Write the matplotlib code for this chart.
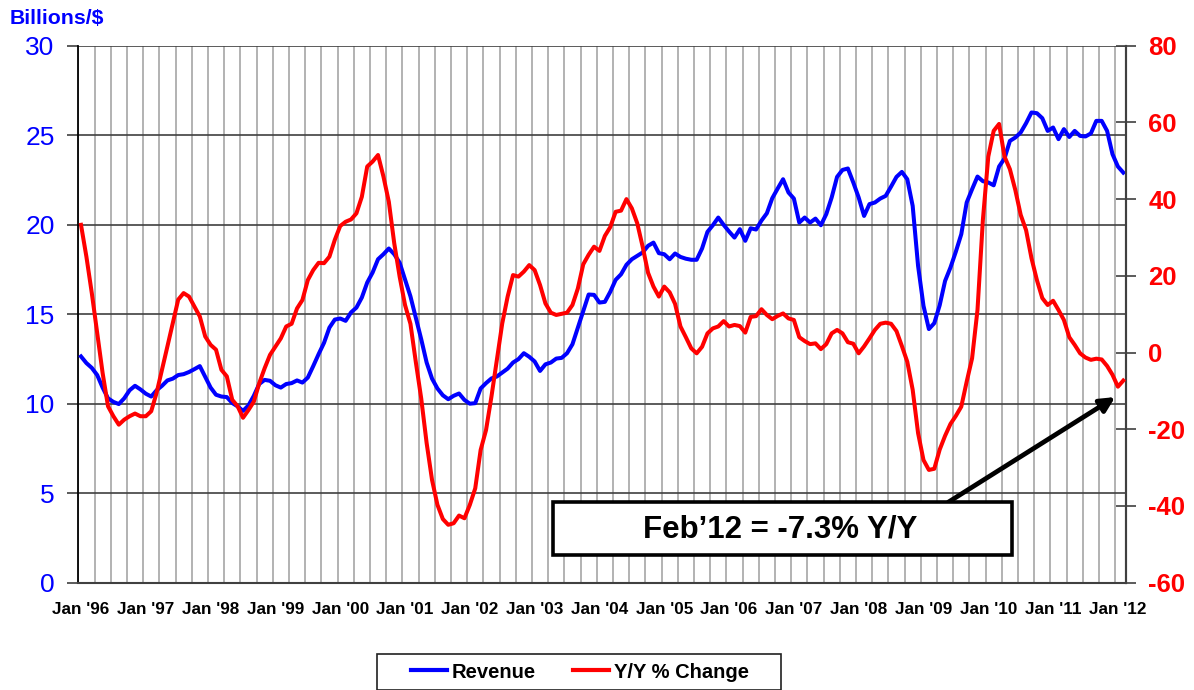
import numpy as np
import matplotlib
matplotlib.use("Agg")
import matplotlib.pyplot as plt
from matplotlib.patches import Rectangle
from matplotlib.lines import Line2D

plt.rcParams['font.family'] = ['Liberation Sans', 'DejaVu Sans']

# Monthly data, Jan 1996 .. Feb 2012
revenue = [
    12.64, 12.27, 12.0, 11.6, 10.9, 10.3, 10.1, 9.98, 10.3, 10.75, 11.0, 10.8,
    10.56, 10.4, 10.75, 11.0, 11.3, 11.4, 11.6, 11.65, 11.77, 11.93, 12.1, 11.5,
    10.9, 10.5, 10.4, 10.37, 10.04, 9.85, 9.6, 9.9, 10.44, 11.1, 11.33, 11.28,
    11.03, 10.9, 11.1, 11.15, 11.3, 11.18, 11.46, 12.1, 12.77, 13.4, 14.25, 14.7,
    14.76, 14.63, 15.1, 15.37, 15.93, 16.77, 17.33, 18.07, 18.35, 18.67, 18.35, 17.88,
    16.95, 16.0, 14.8, 13.6, 12.3, 11.4, 10.85, 10.47, 10.25, 10.44, 10.57, 10.21,
    10.0, 10.03, 10.85, 11.15, 11.41, 11.52, 11.74, 11.96, 12.3, 12.49, 12.82, 12.62,
    12.36, 11.83, 12.2, 12.3, 12.52, 12.56, 12.82, 13.32, 14.25, 15.2, 16.1, 16.08,
    15.65, 15.69, 16.25, 16.92, 17.23, 17.76, 18.07, 18.26, 18.45, 18.82, 19.0, 18.41,
    18.35, 18.07, 18.39, 18.2, 18.1, 18.04, 18.04, 18.67, 19.6, 19.97, 20.4, 19.99,
    19.62, 19.28, 19.75, 19.1, 19.8, 19.73, 20.23, 20.64, 21.48, 22.02, 22.54, 21.8,
    21.46, 20.12, 20.4, 20.12, 20.34, 19.97, 20.59, 21.52, 22.67, 23.06, 23.14, 22.36,
    21.52, 20.49, 21.15, 21.24, 21.46, 21.61, 22.13, 22.67, 22.95, 22.54, 21.05, 17.7,
    15.47, 14.17, 14.5, 15.5, 16.86, 17.61, 18.5, 19.47, 21.24, 21.98, 22.69, 22.43,
    22.36, 22.2, 23.25, 23.7, 24.68, 24.87, 25.15, 25.67, 26.27, 26.23, 25.95, 25.24,
    25.43, 24.78, 25.34, 24.9, 25.24, 24.96, 24.93, 25.1, 25.8, 25.8, 25.24, 23.94,
    23.25, 22.91,
]
yoy_change = [
    33.3, 25.0, 15.5, 5.1, -5.3, -14.0, -16.6, -18.8, -17.5, -16.6, -15.9, -16.6,
    -16.6, -15.3, -10.5, -4.5, 1.6, 7.7, 13.8, 15.5, 14.6, 12.0, 9.4, 4.2,
    2.0, 0.75, -4.5, -6.2, -12.3, -14.0, -17.0, -15.0, -12.8, -8.0, -4.1, -0.6,
    1.55, 3.7, 6.8, 7.5, 11.5, 13.7, 18.9, 21.5, 23.4, 23.3, 25.0, 29.4,
    33.0, 34.1, 34.7, 36.3, 40.6, 48.5, 49.8, 51.5, 45.9, 39.3, 28.5, 19.8,
    12.4, 7.5, -2.5, -12.0, -23.6, -33.2, -39.7, -43.4, -44.9, -44.5, -42.5, -43.2,
    -39.7, -35.4, -25.4, -20.2, -11.5, -1.9, 7.6, 14.6, 20.2, 19.8, 21.1, 22.8,
    21.5, 17.6, 12.8, 10.4, 9.8, 10.1, 10.4, 12.4, 16.7, 23.0, 25.5, 27.6,
    26.5, 30.4, 32.7, 36.7, 37.0, 40.0, 37.6, 33.7, 27.6, 20.8, 17.2, 14.6,
    17.2, 15.7, 12.7, 6.8, 4.0, 1.1, -0.2, 1.5, 5.0, 6.3, 6.8, 8.2,
    6.8, 7.2, 6.9, 5.2, 9.3, 9.5, 11.3, 9.8, 8.7, 9.55, 10.2, 8.9,
    8.5, 4.0, 3.0, 2.2, 2.4, 0.9, 2.2, 5.0, 5.9, 5.0, 2.7, 2.3,
    -0.2, 1.6, 3.7, 5.9, 7.5, 7.8, 7.5, 5.6, 1.7, -2.4, -9.7, -21.0,
    -28.0, -30.6, -30.3, -25.3, -21.7, -18.6, -16.5, -14.1, -7.6, -1.5, 11.1, 34.6,
    51.1, 57.8, 59.6, 51.1, 47.8, 42.4, 35.9, 31.9, 24.6, 18.9, 14.2, 12.4,
    13.5, 11.1, 8.5, 4.0, 2.0, -0.2, -1.3, -1.9, -1.6, -1.8, -3.5, -5.8,
    -8.9, -7.3,
]
tick_labels = ["Jan '96", "Jan '97", "Jan '98", "Jan '99", "Jan '00", "Jan '01",
               "Jan '02", "Jan '03", "Jan '04", "Jan '05", "Jan '06", "Jan '07",
               "Jan '08", "Jan '09", "Jan '10", "Jan '11", "Jan '12"]
series_names = ["Revenue", "Y/Y % Change"]
left_ticks = [0, 5, 10, 15, 20, 25, 30]
right_ticks = [-60, -40, -20, 0, 20, 40, 60, 80]

n = len(revenue)
x = np.arange(n)

W, H = 1194, 690
fig = plt.figure(figsize=(W / 100, H / 100), dpi=100)
ax = fig.add_axes([78.3 / W, 1 - 582.7 / H, (1126 - 78.3) / W, 537 / H])
ax2 = ax.twinx()

BLUE = '#0000FF'
RED = '#FF0000'

ax.set_xlim(-0.5, n - 0.5)
ax.set_ylim(0, 30)
ax2.set_ylim(-60, 80)

# vertical gridlines every quarter
ax.set_xticks(np.arange(-0.5, n, 3), minor=True)
ax.set_xticks(np.arange(0, n, 12))
ax.set_xticklabels(tick_labels, fontsize=12.3, fontweight='bold')
ax.tick_params(axis='x', which='both', length=0, pad=14)
ax.grid(True, which='minor', axis='x', color='#A6A6A6', linewidth=1.2, zorder=0)

ax.set_yticks(left_ticks)
ax.set_yticklabels([str(v) for v in left_ticks], color=BLUE, fontsize=19)
ax.tick_params(axis='y', length=8, width=1.2, color='#404040', direction='out', pad=9)
ax.grid(True, which='major', axis='y', color='#404040', linewidth=1.2, zorder=0)

ax2.set_yticks(right_ticks)
ax2.set_yticklabels([str(v) for v in right_ticks], color=RED, fontsize=18.5, fontweight='bold')
ax2.tick_params(axis='y', length=14, width=1.2, color='#404040', direction='inout', pad=9)

for a in (ax, ax2):
    a.spines['top'].set_visible(False)
    a.spines['left'].set_color('black')
    a.spines['left'].set_linewidth(1.3)
    a.spines['right'].set_color('#404040')
    a.spines['right'].set_linewidth(1.5)
    a.spines['bottom'].set_color('#404040')
    a.spines['bottom'].set_linewidth(1.5)
ax2.spines['left'].set_visible(False)
ax2.spines['bottom'].set_visible(False)

ax.plot(x, revenue, color=BLUE, linewidth=2.9, solid_joinstyle='round', zorder=3)
ax2.plot(x, yoy_change, color=RED, linewidth=2.9, solid_joinstyle='round', zorder=3)

# annotation box + arrow
fig.add_artist(Rectangle((553 / W, 1 - 555 / H), 459 / W, 53 / H,
                         transform=fig.transFigure, facecolor='white',
                         edgecolor='black', linewidth=2.6, zorder=6))
fig.text(780 / W, 1 - 529 / H, f"Feb\u201912 = {yoy_change[-1]:.1f}% Y/Y",
         ha='center', va='center', fontsize=22.5, fontweight='bold', zorder=7)
ax2.annotate('', xy=(n - 2.5, yoy_change[-1] - 4.3), xytext=(160.6, -39.0),
             arrowprops=dict(arrowstyle='-|>', color='black', lw=3.4,
                             mutation_scale=22, shrinkA=0, shrinkB=0),
             zorder=5, annotation_clip=False)

fig.text(10 / W, 1 - 19 / H, "Billions/$", color=BLUE, fontsize=15.3,
         fontweight='bold', ha='left', va='center')

# legend: entries without frame, plus an explicit frame rectangle
fig.add_artist(Rectangle((377 / W, 1 - 689.5 / H), 404 / W, 35.5 / H,
                         transform=fig.transFigure, facecolor='white',
                         edgecolor='#202020', linewidth=1.2, zorder=4))
handles = [Line2D([], [], color=BLUE, linewidth=3),
           Line2D([], [], color=RED, linewidth=3)]
leg = fig.legend(handles, series_names, loc='center',
                 bbox_to_anchor=(580 / W, 1 - 672 / H), ncol=2, frameon=False,
                 prop={'weight': 'bold', 'size': 14.5}, handlelength=1.8,
                 handletextpad=0.25, columnspacing=1.85, borderpad=0,
                 borderaxespad=0)
leg.set_zorder(8)

fig.savefig('out.png', dpi=100)
